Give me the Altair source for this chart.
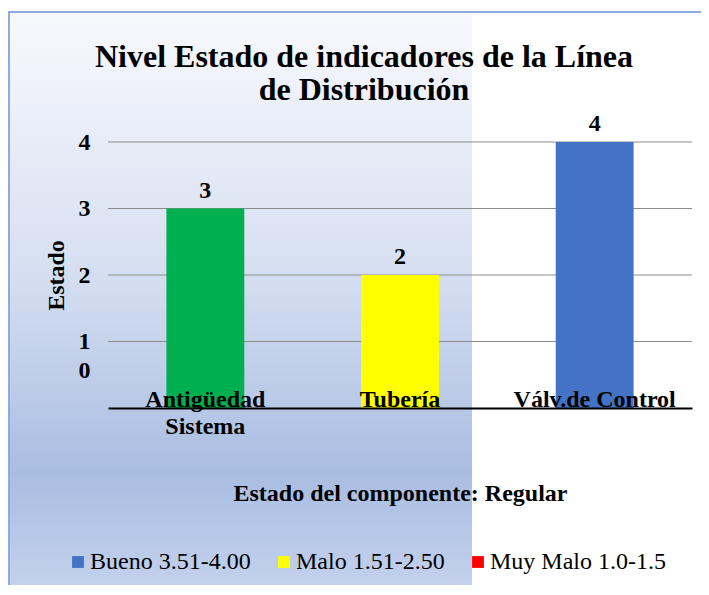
import altair as alt
import pandas as pd

# ---- data ----
categorias = ["Antigüedad Sistema", "Tubería", "Válv.de Control"]
valores = [3, 2, 4]
colores_barras = ["#00B050", "#FFFF00", "#4472C4"]
leyenda_niveles = ["Bueno 3.51-4.00", "Malo 1.51-2.50", "Muy Malo 1.0-1.5"]
leyenda_colores = ["#4472C4", "#FFFF00", "#FF0000"]
ticks_y = [0, 1, 2, 3, 4]
lineas_grilla = [1, 2, 3, 4]

titulo = "Nivel Estado de indicadores de la Línea\nde Distribución"
titulo_x = "Estado del componente: Regular"
titulo_y = "Estado"

FONT = "Liberation Serif"

df = pd.DataFrame({"Componente": categorias, "Estado": valores, "color": colores_barras})
df_leg = pd.DataFrame({"Nivel": leyenda_niveles})
df_grid = pd.DataFrame({"Estado": lineas_grilla})
uno = pd.DataFrame({"k": [0]})

W, H = 584, 266

fondo = alt.Chart(uno).mark_rect(
    fill=alt.Gradient(
        gradient="linear",
        stops=[
            alt.GradientStop(color="#F8F9FD", offset=0),
            alt.GradientStop(color="#D6DFF1", offset=0.45),
            alt.GradientStop(color="#A9BDE2", offset=0.8),
            alt.GradientStop(color="#C3D1EC", offset=1),
        ],
        x1=0, x2=0, y1=0, y2=1,
    )
).encode(x=alt.value(-100), x2=alt.value(364), y=alt.value(-130), y2=alt.value(446))

borde = alt.Chart(uno).mark_rect(
    fillOpacity=0, stroke="#8FAADC", strokeWidth=2
).encode(x=alt.value(-99), x2=alt.value(640), y=alt.value(-130), y2=alt.value(500))

y_scale = alt.Scale(domain=[0, 4], nice=False)

grilla = alt.Chart(df_grid).mark_rule(color="#8C8C8C", strokeWidth=1).encode(
    y=alt.Y("Estado:Q", scale=y_scale), x=alt.value(0), x2=alt.value(W)
)

x_enc = alt.X(
    "Componente:N",
    sort=categorias,
    scale=alt.Scale(paddingInner=0.6, paddingOuter=0.3),
    axis=alt.Axis(
        title=titulo_x,
        labelAngle=0,
        labelFont=FONT,
        labelFontSize=24,
        labelFontWeight="bold",
        labelColor="black",
        labelBaseline="alphabetic",
        labelPadding=-2,
        labelLineHeight=27,
        labelLimit=0,
        labelExpr="datum.value == 'Antigüedad Sistema' ? ['Antigüedad', 'Sistema'] : datum.label",
        ticks=False,
        domain=True,
        domainColor="black",
        domainWidth=2,
        titleFont=FONT,
        titleFontSize=24,
        titleFontWeight="bold",
        titleColor="black",
        titleX=292,
        titleY=92,
        titleBaseline="alphabetic",
        zindex=2,
    ),
)

y_enc = alt.Y(
    "Estado:Q",
    scale=y_scale,
    axis=alt.Axis(
        values=ticks_y,
        format="d",
        grid=False,
        domain=False,
        ticks=False,
        labelFont=FONT,
        labelFontSize=24,
        labelFontWeight="bold",
        labelColor="black",
        labelPadding=18,
        labelOffset={"condition": {"test": "datum.value == 0", "value": -38}, "value": 0},
        title=titulo_y,
        titleFont=FONT,
        titleFontSize=24,
        titleFontWeight="bold",
        titleColor="black",
        titleX=-45,
        titleY=133,
        titleBaseline="alphabetic",
        zindex=2,
    ),
)

barras = alt.Chart(df).mark_bar().encode(
    x=x_enc, y=y_enc, color=alt.Color("color:N", scale=None)
)

etiquetas = alt.Chart(df).mark_text(
    dy=-11, baseline="alphabetic", font=FONT, fontWeight="bold", fontSize=24, color="black"
).encode(x=alt.X("Componente:N", sort=categorias), y="Estado:Q", text="Estado:Q")

titulo_txt = alt.Chart(uno).mark_text(
    font=FONT, fontSize=32, fontWeight="bold", color="black",
    align="center", baseline="alphabetic", lineBreak="\n", lineHeight=33,
).encode(x=alt.value(256), y=alt.value(-75), text=alt.value(titulo))

leyenda = alt.Chart(df_leg).mark_point(
    shape="square", filled=True, size=0, opacity=0
).encode(
    x=alt.value(0),
    y=alt.value(0),
    color=alt.Color(
        "Nivel:N",
        scale=alt.Scale(domain=leyenda_niveles, range=leyenda_colores),
        legend=alt.Legend(
            title=None,
            orient="none",
            direction="horizontal",
            legendX=-42,
            legendY=408,
            symbolType="square",
            symbolSize=140,
            symbolStrokeWidth=0,
            symbolOpacity=1,
            labelFont=FONT,
            labelFontSize=24,
            labelColor="black",
            labelOffset=0,
            labelLimit=0,
            columnPadding=21,
        ),
    ),
)

chart = (
    alt.layer(fondo, borde, grilla, barras, etiquetas, titulo_txt, leyenda)
    .properties(
        width=W,
        height=H,
        padding={"left": 100, "top": 134, "right": 9, "bottom": 177},
        autosize=alt.AutoSizeParams(type="none"),
        background="white",
    )
    .configure_view(stroke=None)
    .configure_legend(labelFont=FONT, labelFontSize=24, labelColor="black")
)

chart.save("out.html", embed_options={"renderer": "svg", "actions": False})
